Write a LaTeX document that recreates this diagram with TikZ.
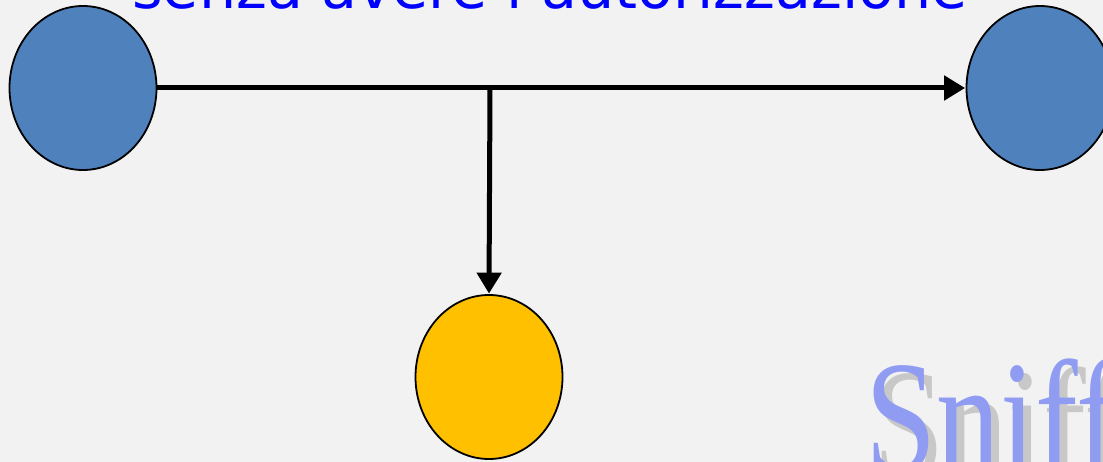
\documentclass[tikz,border=0pt]{standalone}
\usepackage{fontspec}
\setmainfont{DejaVu Sans}
\newfontfamily\libserif{Liberation Serif}
\usetikzlibrary{shapes.geometric,arrows.meta}
\definecolor{bgcol}{HTML}{F2F2F2}
\definecolor{nodeblue}{HTML}{4F81BD}
\definecolor{nodeyellow}{HTML}{FFC000}
\definecolor{titleblue}{HTML}{0000FF}
\definecolor{sniffblue}{HTML}{8F9CF2}
\definecolor{shadowgray}{HTML}{C8C8C8}
\tikzset{
  hostnode/.style={ellipse, draw=black, line width=1.8pt, inner sep=0pt,
    minimum width=147pt, minimum height=164pt},
  flow/.style={line width=5pt, -{Triangle[length=21pt,width=24pt]}, shorten >=0.5pt},
  sniffstyle/.style={anchor=base west, inner sep=0pt, xscale=0.8,
    font=\fontsize{160}{160}\selectfont\libserif},
}
\begin{document}
\begin{tikzpicture}[x=1pt,y=-1pt]
\useasboundingbox (0,0) rectangle (1103,462);
\clip (0,0) rectangle (1103,462);
\fill[bgcol] (0,0) rectangle (1103,462);
\node[anchor=base, inner sep=0pt, text=titleblue] (title) at (550,9)
  {\resizebox{835pt}{!}{senza avere l'autorizzazione}};
\node[hostnode, fill=nodeblue] (A) at (83,88) {};
\node[hostnode, fill=nodeblue] (B) at (1040,88) {};
\node[hostnode, fill=nodeyellow] (C) at (489,377) {};
\coordinate (J) at (490,89);
\draw[flow] (A.east) -- (B.west);
\draw[flow] (J) -- (C.north);
\node[sniffstyle, text=shadowgray] (shadow) at (873,479) {Sniff};
\node[sniffstyle, text=sniffblue] (sniff) at (865,471) {Sniff};
\end{tikzpicture}
\end{document}
